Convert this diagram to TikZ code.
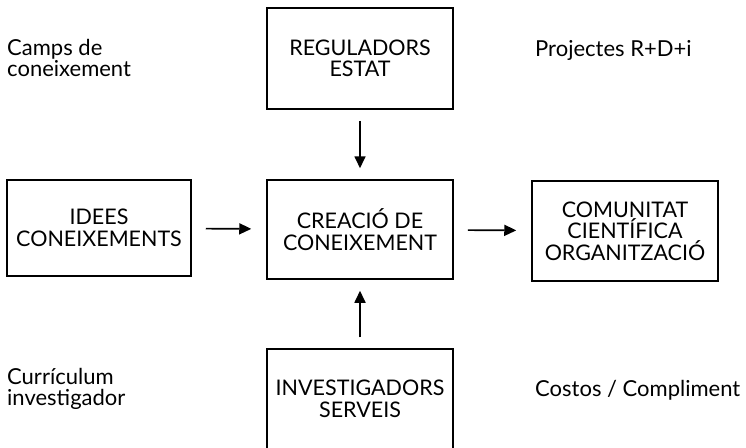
\documentclass[tikz,border=0pt]{standalone}
\usepackage{fontspec}
\setmainfont{Lato}
\usetikzlibrary{arrows.meta,shapes}
\tikzstyle{box}=[draw,line width=1.5pt,minimum width=186pt,inner sep=0pt,align=center,font=\fontsize{21.5}{21.5}\selectfont]
\tikzstyle{note}=[anchor=west,inner sep=0pt,align=left,font=\fontsize{22}{20.5}\selectfont]
\tikzstyle{edge}=[draw,line width=1.7pt,-{Triangle[length=12pt,width=11pt]}]

\begin{document}
\begin{tikzpicture}[x=1pt,y=-1pt]

    \useasboundingbox (0,0) rectangle (746,447);
    \clip (0,0) rectangle (746,447);

    \node[box, minimum height=101pt] (reg) at (360,58.5) {REGULADORS\\ESTAT};
    \node[box, minimum height=99pt] (creacio) at (360,229.5) {CREACIÓ DE\\CONEIXEMENT};
    \node[box, minimum width=184pt, minimum height=96pt] (idees) at (99,228) {IDEES\\CONEIXEMENTS};
    \node[box, minimum height=100pt] (comunitat) at (625,231) {COMUNITAT\\CIENTÍFICA\\ORGANITZACIÓ};
    \node[box, minimum height=100pt] (invest) at (360,399) {INVESTIGADORS\\SERVEIS};

    \foreach \source/\dest in {reg/creacio, invest/creacio}
        \path[edge, shorten <=11pt, shorten >=11pt] (\source) -- (\dest);
    \foreach \source/\dest in {idees/creacio, creacio/comunitat}
        \path[edge, shorten <=14pt, shorten >=15pt] (\source) -- (\dest);

    \node[note] (camps) at (7,58) {Camps de\\coneixement};
    \node[note] (projectes) at (535,50) {Projectes R+D+i};
    \node[note] (curriculum) at (7,389) {Currículum\\investigador};
    \node[note] (costos) at (535,390) {Costos / Compliment};

\end{tikzpicture}
\end{document}
